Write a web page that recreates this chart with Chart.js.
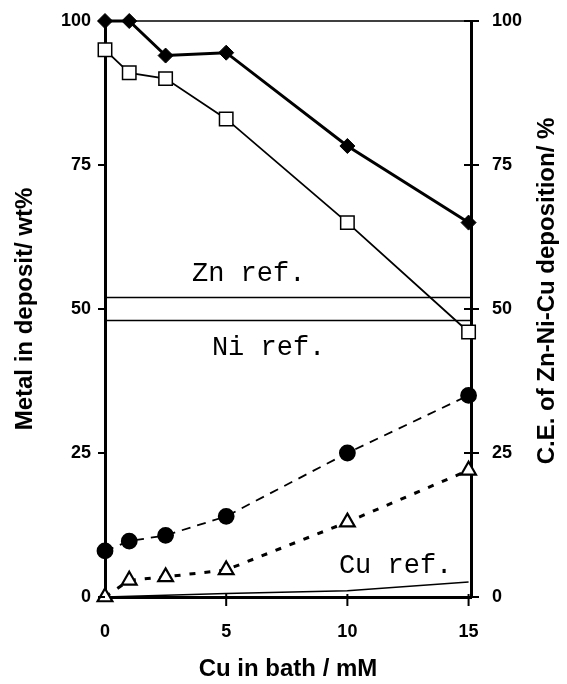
<!DOCTYPE html>
<html>
<head>
<meta charset="utf-8">
<script src="https://cdn.jsdelivr.net/npm/chart.js@4"></script>
<style>
  html, body { margin: 0; padding: 0; background: #fff; }
  #wrap { width: 567px; height: 684px; position: relative; }
</style>
</head>
<body>
<div id="wrap"><canvas id="c"></canvas></div>
<script>
// Cu concentration in bath (mM)
const cuConc = [0, 1, 2.5, 5, 10, 15]
// C.E. of Zn-Ni-Cu deposition (%), filled diamonds
const ceValues = [100, 100, 94, 94.5, 78.3, 65]
// open squares
const znValues = [95, 91, 90, 83, 65, 46]
// filled circles
const niValues = [8, 9.7, 10.7, 14, 25, 35]
// open triangles
const cuValues = [0, 2.9, 3.5, 4.7, 13, 22]

// reference lines
const refX = [0, 15.1]
const znRef = [52, 52]
const niRef = [48, 48]
const cuRefX = [0, 5, 10, 15]
const cuRef = [0, 0.6, 1.1, 2.6]

const xTicks = [0, 5, 10, 15]
const yTicks = [0, 25, 50, 75, 100]
const refLabels = ['Zn ref.', 'Ni ref.', 'Cu ref.']

const pts = (xs, ys) => xs.map((x, i) => ({ x, y: ys[i] }))

const tickFont = { family: 'Liberation Sans, Arial', size: 18, weight: 'bold' }
const titleFont = { family: 'Liberation Sans, Arial', size: 24, weight: 'bold' }

function line(ctx, x1, y1, x2, y2) {
  ctx.beginPath()
  ctx.moveTo(x1, y1)
  ctx.lineTo(x2, y2)
  ctx.stroke()
}

// fixed box sizes; drop the label overhang padding so the plot top stays put
function fitVertical(width) {
  return s => {
    s.width = width
    s.paddingTop = 0
    s.paddingBottom = 0
  }
}

const decorations = {
  id: 'decorations',
  afterDatasetsDraw(chart) {
    const { ctx, chartArea: a, scales: { x, y } } = chart
    ctx.save()
    ctx.strokeStyle = '#000'
    // thin frame on top
    ctx.lineWidth = 1.5
    line(ctx, a.left, a.top, a.right, a.top)
    // tick marks
    ctx.lineWidth = 2
    yTicks.forEach(v => {
      const py = y.getPixelForValue(v)
      line(ctx, a.left - 7, py, a.left, py)
      line(ctx, a.right - 7, py, a.right + 8, py)
    })
    xTicks.forEach(v => {
      if (v === 0) return
      const px = x.getPixelForValue(v)
      line(ctx, px, a.bottom - 3, px, a.bottom + 9)
    })
    // reference labels
    ctx.fillStyle = '#000'
    ctx.font = '27px "Liberation Mono", "DejaVu Sans Mono", monospace'
    ctx.textBaseline = 'alphabetic'
    ctx.textAlign = 'left'
    ctx.fillText(refLabels[0], x.getPixelForValue(3.59), y.getPixelForValue(54.8))
    ctx.fillText(refLabels[1], x.getPixelForValue(4.41), y.getPixelForValue(42.1))
    ctx.fillText(refLabels[2], x.getPixelForValue(9.65), y.getPixelForValue(4.2))
    // right axis title, reading bottom to top
    ctx.font = 'bold 24px "Liberation Sans", Arial'
    ctx.textAlign = 'center'
    ctx.textBaseline = 'middle'
    ctx.translate(547, 291)
    ctx.rotate(-Math.PI / 2)
    ctx.fillText('C.E. of Zn-Ni-Cu deposition/ %', 0, 0)
    ctx.restore()
  },
}

const thinRef = {
  borderColor: '#000',
  borderWidth: 1.5,
  pointRadius: 0,
  fill: false,
  clip: false,
  order: 10,
}

new Chart(document.getElementById('c'), {
  type: 'line',
  data: {
    datasets: [
      {
        data: pts(cuConc, ceValues),
        yAxisID: 'y2',
        borderColor: '#000',
        borderWidth: 3,
        pointStyle: 'rectRot',
        pointRadius: 7.5,
        pointBackgroundColor: '#000',
        pointBorderColor: '#000',
        pointBorderWidth: 1,
        clip: false,
        order: 1,
      },
      {
        data: pts(cuConc, znValues),
        borderColor: '#000',
        borderWidth: 1.8,
        pointStyle: 'rect',
        pointRadius: 9.5,
        pointBackgroundColor: '#fff',
        pointBorderColor: '#000',
        pointBorderWidth: 1.5,
        clip: false,
        order: 2,
      },
      {
        data: pts(cuConc, niValues),
        borderColor: '#000',
        borderWidth: 1.8,
        borderDash: [9, 7],
        pointStyle: 'circle',
        pointRadius: 7.5,
        pointBackgroundColor: '#000',
        pointBorderColor: '#000',
        clip: false,
        order: 3,
      },
      {
        data: pts(cuConc, cuValues),
        borderColor: '#000',
        borderWidth: 3,
        borderDash: [6, 9],
        pointStyle: 'triangle',
        pointRadius: 8.5,
        pointBackgroundColor: '#fff',
        pointBorderColor: '#000',
        pointBorderWidth: 2.2,
        clip: false,
        order: 4,
      },
      { ...thinRef, data: pts(refX, znRef) },
      { ...thinRef, data: pts(refX, niRef) },
      { ...thinRef, data: pts(cuRefX, cuRef) },
    ],
  },
  options: {
    responsive: true,
    maintainAspectRatio: false,
    animation: false,
    layout: { padding: { top: 21, left: 0, right: 0, bottom: 0 } },
    plugins: { legend: { display: false }, tooltip: { enabled: false } },
    elements: { line: { tension: 0 } },
    scales: {
      x: {
        type: 'linear',
        position: 'bottom',
        min: 0,
        max: 15.1,
        afterBuildTicks: s => { s.ticks = xTicks.map(v => ({ value: v })) },
        afterFit: s => { s.height = 87 },
        grid: { drawOnChartArea: false, drawTicks: false },
        border: { color: '#000', width: 3 },
        ticks: { color: '#000', font: tickFont, padding: 24, maxRotation: 0 },
        title: { display: true, text: 'Cu in bath / mM', color: '#000', font: titleFont, padding: { top: 0, bottom: 0 } },
      },
      y: {
        type: 'linear',
        position: 'left',
        min: 0,
        max: 100,
        afterBuildTicks: s => { s.ticks = yTicks.map(v => ({ value: v })) },
        afterFit: fitVertical(105),
        grid: { drawOnChartArea: false, drawTicks: false },
        border: { color: '#000', width: 3 },
        ticks: { color: '#000', font: tickFont, padding: 14 },
        title: { display: true, text: 'Metal in deposit/ wt%', color: '#000', font: titleFont, padding: { top: 11, bottom: 0 } },
      },
      y2: {
        type: 'linear',
        position: 'right',
        min: 0,
        max: 100,
        afterBuildTicks: s => { s.ticks = yTicks.map(v => ({ value: v })) },
        afterFit: fitVertical(96),
        grid: { drawOnChartArea: false, drawTicks: false },
        border: { color: '#000', width: 3 },
        ticks: { color: '#000', font: tickFont, padding: 21 },
      },
    },
  },
  plugins: [decorations],
})
</script>
</body>
</html>
